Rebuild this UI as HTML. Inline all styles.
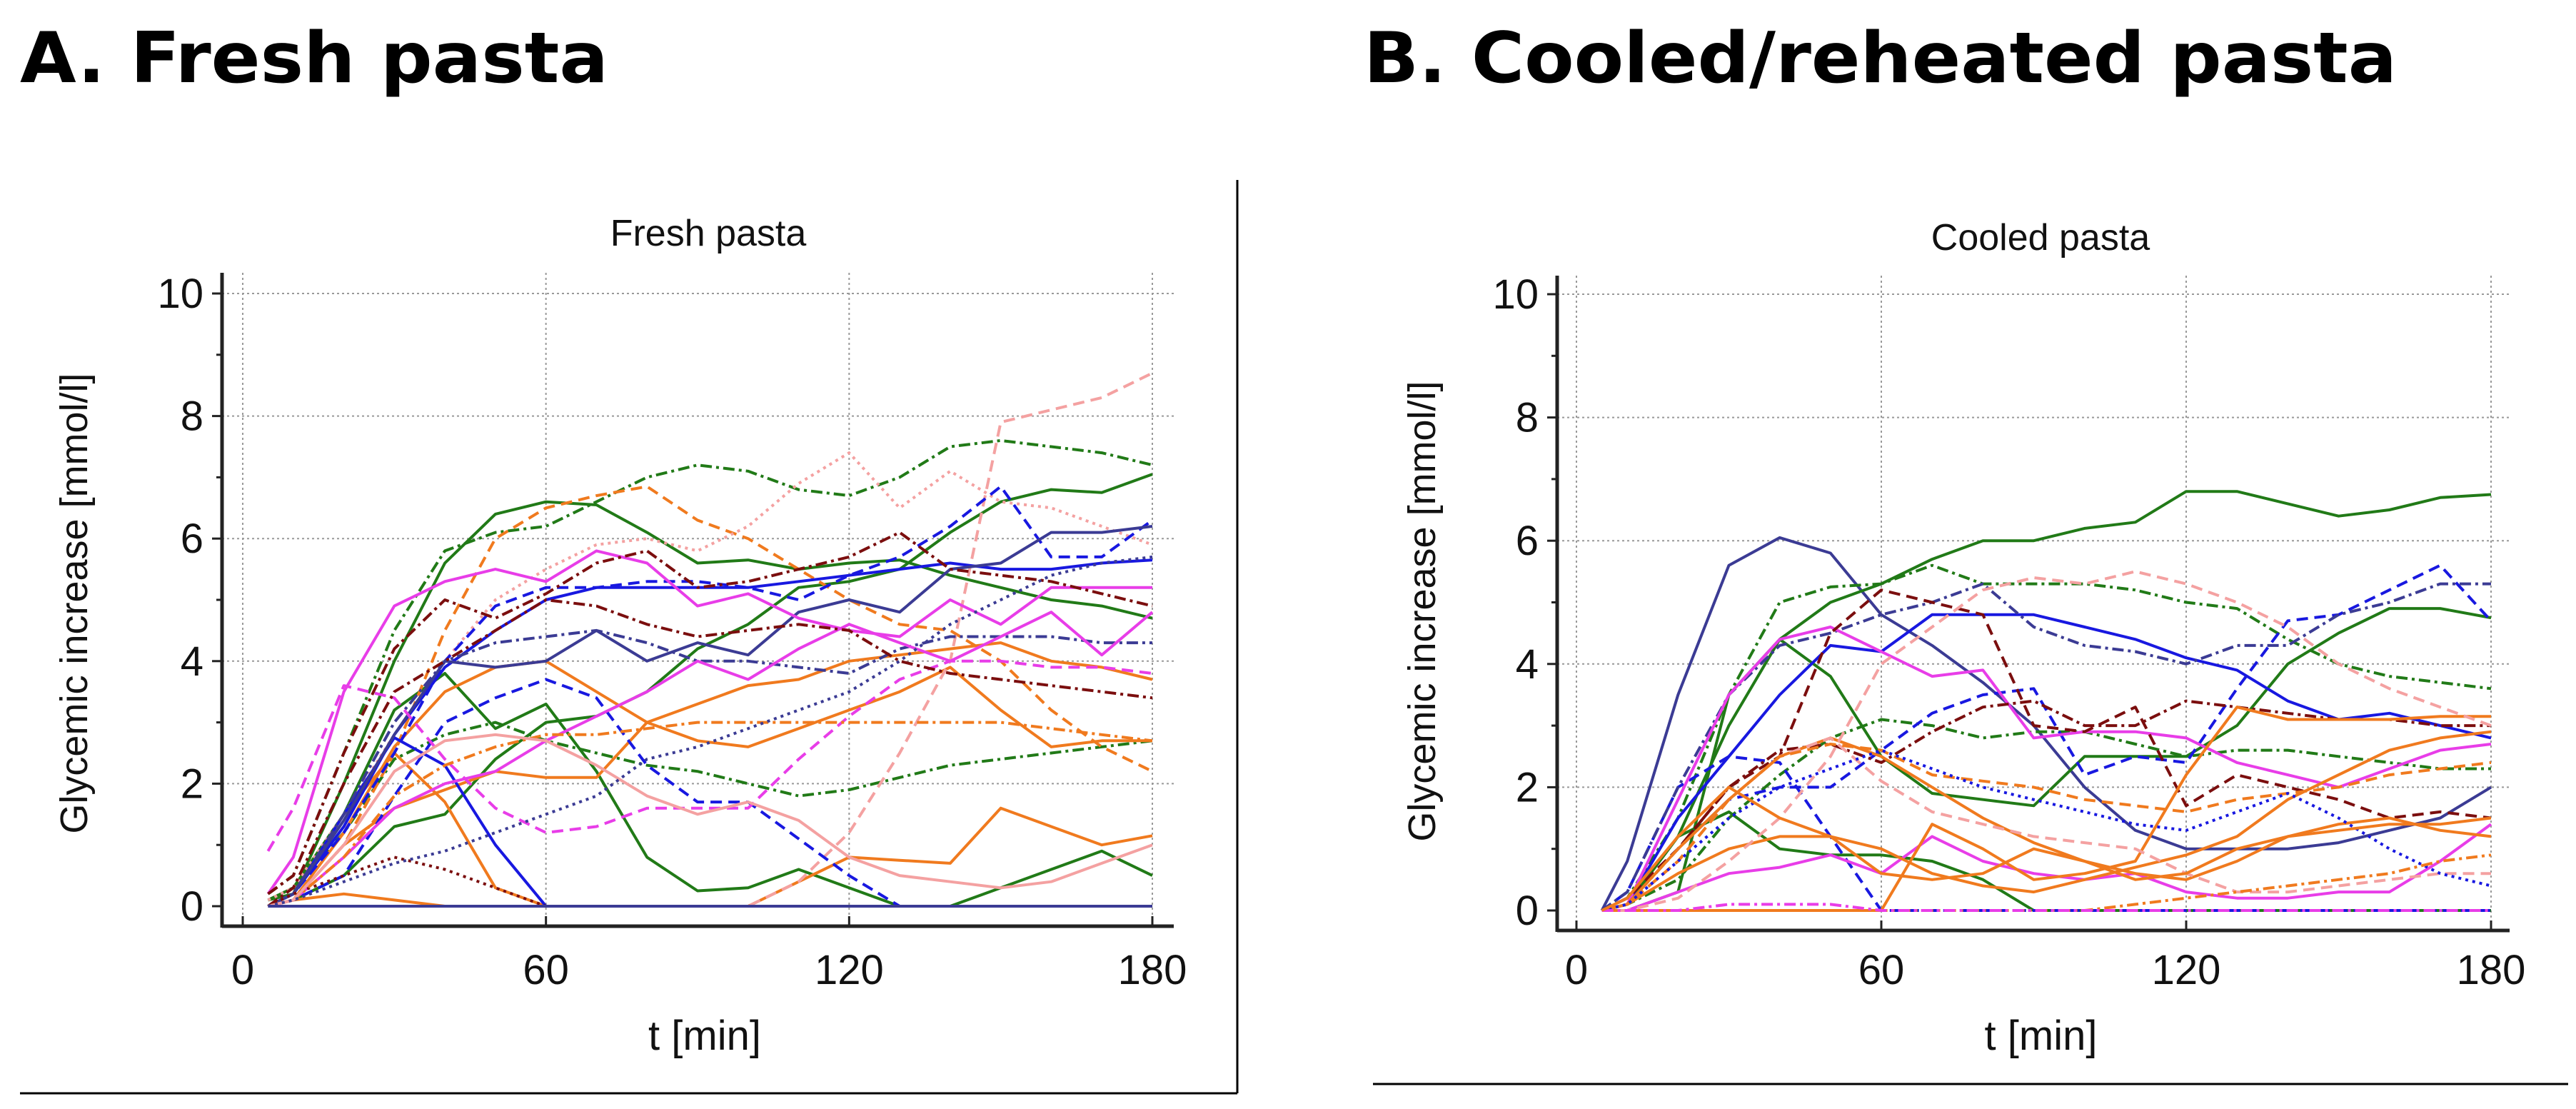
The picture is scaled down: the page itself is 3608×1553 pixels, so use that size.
<!DOCTYPE html>
<html><head><meta charset="utf-8"><style>
html,body{margin:0;padding:0;background:#fff;}
svg{display:block;font-family:"Liberation Sans",Arial,sans-serif;}
</style></head><body>
<svg id="fig" width="3608" height="1553" viewBox="0 0 3608 1553" xmlns="http://www.w3.org/2000/svg">
<rect x="0" y="0" width="3608" height="1553" fill="#fff"/>
<text x="28" y="115" font-family="DejaVu Sans, sans-serif" font-weight="bold" font-size="98" textLength="824" lengthAdjust="spacingAndGlyphs">A. Fresh pasta</text>
<text x="1910" y="115" font-family="DejaVu Sans, sans-serif" font-weight="bold" font-size="98" textLength="1447" lengthAdjust="spacingAndGlyphs">B. Cooled/reheated pasta</text>
<line x1="1733" y1="252" x2="1733" y2="1531" stroke="#000" stroke-width="3"/>
<line x1="28" y1="1531" x2="1733" y2="1531" stroke="#000" stroke-width="3"/>
<line x1="1923" y1="1518" x2="3597" y2="1518" stroke="#000" stroke-width="3"/>
<g id="panelA"></g>
<g id="panelB"></g>
</svg>
<script>
const timesMin = [5,10,20,30,40,50,60,70,80,90,100,110,120,130,140,150,160,170,180];
const xTicks = [0,60,120,180];
const yTicks = [0,2,4,6,8,10];

// Panel A: fresh pasta
const A01 = [0.1,0.2,2.0,4.0,5.6,6.4,6.6,6.55,6.1,5.6,5.65,5.5,5.6,5.65,5.4,5.2,5.0,4.9,4.7];
const A02 = [0,0.1,0.5,1.3,1.5,2.4,3.0,3.1,3.5,4.2,4.6,5.2,5.3,5.5,6.1,6.6,6.8,6.75,7.05];
const A03 = [0.1,0.3,1.5,3.2,3.8,2.9,3.3,2.2,0.8,0.25,0.3,0.6,0.3,0,0,0.3,0.6,0.9,0.5];
const A04 = [0.2,0.5,2.5,4.5,5.8,6.1,6.2,6.6,7.0,7.2,7.1,6.8,6.7,7.0,7.5,7.6,7.5,7.4,7.2];
const A05 = [0.1,0.3,1.2,2.4,2.8,3.0,2.7,2.5,2.3,2.2,2.0,1.8,1.9,2.1,2.3,2.4,2.5,2.6,2.7];
const A06 = [0,0.1,1.0,2.5,4.5,6.0,6.5,6.7,6.85,6.3,6.0,5.5,5.0,4.6,4.5,4.0,3.2,2.6,2.2];
const A07 = [0,0.1,1.2,2.6,3.5,3.9,4.0,3.5,3.0,3.3,3.6,3.7,4.0,4.1,4.2,4.3,4.0,3.9,3.7];
const A08 = [0,0.1,1.0,1.6,1.9,2.2,2.1,2.1,3.0,2.7,2.6,2.9,3.2,3.5,3.9,3.2,2.6,2.7,2.7];
const A09 = [0,0.1,0.2,0.1,0,0,0,0,0,0,0,0.4,0.8,0.75,0.7,1.6,1.3,1.0,1.15];
const A10 = [0,0.2,1.5,2.5,1.7,0.3,0,0,0,0,0,0,0,0,0,0,0,0,0];
const A11 = [0,0,0,0,0,0,0,0,0,0,0,0.4,1.2,2.5,4.0,7.9,8.1,8.3,8.7];
const A12 = [0.1,0.3,1.5,2.8,4.0,5.0,5.5,5.9,6.0,5.8,6.2,6.9,7.4,6.5,7.1,6.6,6.5,6.2,5.9];
const A13 = [0,0.2,1.3,2.8,3.9,4.5,5.0,5.2,5.2,5.2,5.2,5.3,5.4,5.5,5.6,5.5,5.5,5.6,5.65];
const A14 = [0,0.2,1.5,2.75,2.3,1.0,0,0,0,0,0,0,0,0,0,0,0,0,0];
const A15 = [0,0.1,0.5,1.8,3.0,3.4,3.7,3.4,2.3,1.7,1.7,1.1,0.5,0,0,0,0,0,0];
const A16 = [0,0.2,1.2,2.5,4.0,4.9,5.2,5.2,5.3,5.3,5.2,5.0,5.4,5.7,6.2,6.85,5.7,5.7,6.3];
const A17 = [0,0.2,1.4,2.8,4.0,3.9,4.0,4.5,4.0,4.3,4.1,4.8,5.0,4.8,5.5,5.6,6.1,6.1,6.2];
const A18 = [0,0.2,1.5,3.0,4.0,4.3,4.4,4.5,4.3,4.0,4.0,3.9,3.8,4.2,4.4,4.4,4.4,4.3,4.3];
const A19 = [0.2,0.8,3.5,4.9,5.3,5.5,5.3,5.8,5.6,4.9,5.1,4.7,4.5,4.4,5.0,4.6,5.2,5.2,5.2];
const A20 = [0,0.1,0.8,1.6,2.0,2.2,2.7,3.1,3.5,4.0,3.7,4.2,4.6,4.3,4.0,4.4,4.8,4.1,4.8];
const A21 = [0.9,1.6,3.6,3.4,2.4,1.6,1.2,1.3,1.6,1.6,1.6,2.4,3.1,3.7,4.0,4.0,3.9,3.9,3.8];
const A22 = [0.2,0.5,2.5,4.2,5.0,4.7,5.1,5.6,5.8,5.2,5.3,5.5,5.7,6.1,5.5,5.4,5.3,5.1,4.9];
const A23 = [0,0.2,0.5,0.8,0.6,0.3,0,0,0,0,0,0,0,0,0,0,0,0,0];
const A24 = [0,0.3,2.0,3.5,4.0,4.5,5.0,4.9,4.6,4.4,4.5,4.6,4.5,4.0,3.8,3.7,3.6,3.5,3.4];
const A25 = [0,0.1,0.8,1.8,2.3,2.6,2.8,2.8,2.9,3.0,3.0,3.0,3.0,3.0,3.0,3.0,2.9,2.8,2.7];
const A26 = [0,0.1,1.0,2.2,2.7,2.8,2.7,2.3,1.8,1.5,1.7,1.4,0.8,0.5,0.4,0.3,0.4,0.7,1.0];
const A27 = [0,0.1,0.4,0.7,0.9,1.2,1.5,1.8,2.4,2.6,2.9,3.2,3.5,4.0,4.6,5.0,5.4,5.6,5.7];
const A28 = [0,0,0,0,0,0,0,0,0,0,0,0,0,0,0,0,0,0,0];

// Panel B: cooled pasta
const B01 = [0,0.8,3.5,5.6,6.05,5.8,4.8,4.3,3.7,3.0,2.0,1.3,1.0,1.0,1.0,1.1,1.3,1.5,2.0];
const B02 = [0,0,0.3,3.5,4.4,5.0,5.3,5.7,6.0,6.0,6.2,6.3,6.8,6.8,6.6,6.4,6.5,6.7,6.75];
const B03 = [0,0.1,1.2,3.0,4.4,3.8,2.5,1.9,1.8,1.7,2.5,2.5,2.5,3.0,4.0,4.5,4.9,4.9,4.75];
const B04 = [0,0.2,1.5,3.5,5.0,5.25,5.3,5.6,5.3,5.3,5.3,5.2,5.0,4.9,4.4,4.0,3.8,3.7,3.6];
const B05 = [0,0.1,0.5,1.5,2.2,2.8,3.1,3.0,2.8,2.9,2.9,2.7,2.5,2.6,2.6,2.5,2.4,2.3,2.3];
const B06 = [0,0.1,1.2,1.6,1.0,0.9,0.9,0.8,0.5,0,0,0,0,0,0,0,0,0,0];
const B07 = [0,0.1,1.5,2.5,3.5,4.3,4.2,4.8,4.8,4.8,4.6,4.4,4.1,3.9,3.4,3.1,3.2,3.0,2.8];
const B08 = [0,0.2,1.0,1.8,2.0,2.0,2.6,3.2,3.5,3.6,2.2,2.5,2.4,3.6,4.7,4.8,5.2,5.6,4.7];
const B09 = [0,0.3,2.0,2.5,2.4,1.2,0,0,0,0,0,0,0,0,0,0,0,0,0];
const B10 = [0,0.3,2.0,3.5,4.3,4.5,4.8,5.0,5.3,4.6,4.3,4.2,4.0,4.3,4.3,4.8,5.0,5.3,5.3];
const B11 = [0,0.1,1.8,3.5,4.4,4.6,4.2,3.8,3.9,2.8,2.9,2.9,2.8,2.4,2.2,2.0,2.3,2.6,2.7];
const B12 = [0,0,0.3,0.6,0.7,0.9,0.6,1.2,0.8,0.6,0.5,0.6,0.3,0.2,0.2,0.3,0.3,0.8,1.4];
const B13 = [0,0.2,1.0,2.0,2.5,4.5,5.2,5.0,4.8,3.0,2.9,3.3,1.7,2.2,2.0,1.8,1.5,1.6,1.5];
const B14 = [0,0.1,1.0,2.0,2.6,2.7,2.4,2.9,3.3,3.4,3.0,3.0,3.4,3.3,3.2,3.1,3.1,3.0,3.0];
const B15 = [0,0,0,0,0,0,0,1.4,1.0,0.5,0.6,0.8,2.2,3.3,3.1,3.1,3.1,3.15,3.15];
const B16 = [0,0.1,1.0,1.8,2.5,2.8,2.5,2.0,1.5,1.1,0.8,0.6,0.5,0.8,1.2,1.4,1.5,1.3,1.2];
const B17 = [0,0.1,0.6,1.0,1.2,1.2,1.0,0.6,0.4,0.3,0.5,0.7,0.9,1.2,1.8,2.2,2.6,2.8,2.9];
const B18 = [0,0,0.2,0.8,1.5,2.5,4.0,4.6,5.2,5.4,5.3,5.5,5.3,5.0,4.6,4.0,3.6,3.3,3.0];
const B19 = [0,0.1,0.8,1.8,2.5,2.8,2.1,1.6,1.4,1.2,1.1,1.0,0.6,0.3,0.3,0.4,0.5,0.6,0.6];
const B20 = [0,0.1,0.8,1.8,2.5,2.7,2.6,2.2,2.1,2.0,1.8,1.7,1.6,1.8,1.9,2.0,2.2,2.3,2.4];
const B21 = [0,0.1,0.8,1.5,2.0,2.3,2.6,2.3,2.0,1.8,1.6,1.4,1.3,1.6,1.9,1.5,1.0,0.6,0.4];
const B22 = [0,0,0,0,0,0,0,0,0,0,0,0.1,0.2,0.3,0.4,0.5,0.6,0.8,0.9];
const B23 = [0,0,0,0.1,0.1,0.1,0,0,0,0,0,0,0,0,0,0,0,0,0];
const B24 = [0,0.2,1.2,2.0,1.5,1.2,0.6,0.5,0.6,1.0,0.8,0.5,0.6,1.0,1.2,1.3,1.4,1.4,1.5];

const C = {g:'#217a17',b:'#1818e0',n:'#3b3b94',m:'#e83de8',o:'#f07a1e',p:'#f4a1a1',r:'#7b0e0e'};
const D = {s:'',d:'16,9',t:'4,6',dd:'16,6,4,6'};

const seriesA = [[A01,'g','s'],[A02,'g','s'],[A03,'g','s'],[A04,'g','dd'],[A05,'g','dd'],[A06,'o','d'],[A07,'o','s'],[A08,'o','s'],[A09,'o','s'],[A10,'o','s'],[A11,'p','d'],[A12,'p','t'],[A13,'b','s'],[A14,'b','s'],[A15,'b','d'],[A16,'b','d'],[A17,'n','s'],[A18,'n','dd'],[A19,'m','s'],[A20,'m','s'],[A21,'m','d'],[A22,'r','dd'],[A23,'r','t'],[A24,'r','dd'],[A25,'o','dd'],[A26,'p','s'],[A27,'n','t'],[A28,'n','s']];
const seriesB = [[B01,'n','s'],[B02,'g','s'],[B03,'g','s'],[B04,'g','dd'],[B05,'g','dd'],[B06,'g','s'],[B07,'b','s'],[B08,'b','d'],[B09,'b','d'],[B10,'n','dd'],[B11,'m','s'],[B12,'m','s'],[B13,'r','d'],[B14,'r','dd'],[B15,'o','s'],[B16,'o','s'],[B17,'o','s'],[B18,'p','d'],[B19,'p','d'],[B20,'o','d'],[B21,'b','t'],[B22,'o','dd'],[B23,'m','dd'],[B24,'o','s']];

const NS='http://www.w3.org/2000/svg';
function mk(parent,tag,attrs,text){const e=document.createElementNS(NS,tag);for(const k in attrs)e.setAttribute(k,attrs[k]);if(text!==undefined)e.textContent=text;parent.appendChild(e);return e;}

function drawPanel(g, cfg, series, prefix){
  const xs = t => cfg.x0 + (t/180)*(cfg.x180-cfg.x0);
  const ys = v => cfg.y0 - (v/10)*(cfg.y0-cfg.y10);
  yTicks.forEach(v=>{ if(v===0) return;
    const l=mk(g,'line',{x1:cfg.axX,x2:cfg.axRight,y1:ys(v),y2:ys(v),stroke:'#999','stroke-width':2,'stroke-dasharray':'3,4'});
    
    
  });
  xTicks.forEach(t=>{
    const l=mk(g,'line',{x1:xs(t),x2:xs(t),y1:cfg.axTop,y2:cfg.axY,stroke:'#999','stroke-width':2,'stroke-dasharray':'3,4'});
    
    
  });
  series.forEach((s,i)=>{
    const pts = s[0].map((v,j)=>xs(timesMin[j]).toFixed(1)+','+ys(v).toFixed(1)).join(' ');
    const attrs={points:pts,fill:'none',stroke:C[s[1]],'stroke-width':4,'stroke-linejoin':'round'};
    if(D[s[2]]) attrs['stroke-dasharray']=D[s[2]];
    const p=mk(g,'polyline',attrs);
    
    
  });
  const ya=mk(g,'line',{x1:cfg.axX,x2:cfg.axX,y1:cfg.axTop,y2:cfg.axY+2,stroke:'#222','stroke-width':5});
  
  
  const xa=mk(g,'line',{x1:cfg.axX,x2:cfg.axRight,y1:cfg.axY,y2:cfg.axY,stroke:'#222','stroke-width':5});
  
  
  for(let v=0;v<=10;v++){
    const tk=mk(g,'line',{x1:cfg.axX-(v%2?8:14),x2:cfg.axX,y1:ys(v),y2:ys(v),stroke:'#222','stroke-width':3});
    
    
  }
  yTicks.forEach(v=>{
    const t=mk(g,'text',{x:cfg.axX-26,y:ys(v)+20,'text-anchor':'end','font-size':58,fill:'#111'},String(v));
    
    
  });
  xTicks.forEach(v=>{
    const tk=mk(g,'line',{x1:xs(v),x2:xs(v),y1:cfg.axY-14,y2:cfg.axY,stroke:'#222','stroke-width':3});
    
    
    const t=mk(g,'text',{x:xs(v),y:1378,'text-anchor':'middle','font-size':58,fill:'#111'},String(v));
    
    
  });
  const xt=mk(g,'text',{x:(cfg.x0+cfg.x180)/2+10,y:1470,'text-anchor':'middle','font-size':58,fill:'#111'},'t [min]');
  
  
  const yt=mk(g,'text',{x:0,y:0,'text-anchor':'middle','font-size':54,fill:'#111',transform:'translate('+cfg.ylabX+','+cfg.ylabY+') rotate(-90)'},'Glycemic increase [mmol/l]');
  
  
  const tt=mk(g,'text',{x:cfg.titleX,y:cfg.titleY,'text-anchor':'middle','font-size':52,fill:'#111'},cfg.title);
  
  
}

drawPanel(document.getElementById('panelA'),{x0:340,x180:1614,y0:1269,y10:411,axX:311,axY:1297,axTop:382,axRight:1644,ylabX:122,ylabY:845,titleX:992,titleY:344,title:'Fresh pasta'},seriesA,'fresh');
drawPanel(document.getElementById('panelB'),{x0:2208,x180:3489,y0:1275,y10:412,axX:2181,axY:1303,axTop:386,axRight:3515,ylabX:2010,ylabY:856,titleX:2858,titleY:350,title:'Cooled pasta'},seriesB,'cooled');
</script>
</body></html>
